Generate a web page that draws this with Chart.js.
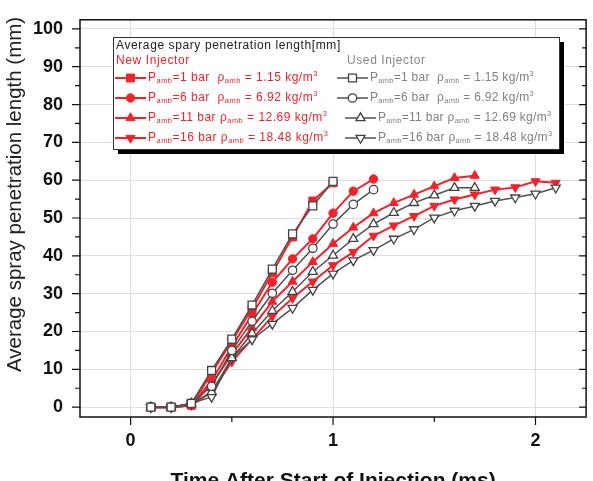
<!DOCTYPE html>
<html><head><meta charset="utf-8">
<script src="https://cdn.jsdelivr.net/npm/chart.js@4.4.1/dist/chart.umd.min.js"></script>
<style>html,body{margin:0;padding:0;overflow:hidden;background:#fff}#wrap{width:593px;height:497px;position:relative}</style>
</head><body><div id="wrap"><canvas id="c"></canvas></div>
<script>
// ---- data ----
const times = [0.1,0.2,0.3,0.4,0.5,0.6,0.7,0.8,0.9,1.0,1.1,1.2,1.3,1.4,1.5,1.6,1.7,1.8,1.9,2.0,2.1];
const pressures = [1, 6, 11, 16];
const densities = ['1.15', '6.92', '12.69', '18.48'];
const new1  = [0,0,0.5,9,17.5,26,35.5,45,54.5,59.3];
const new6  = [0,0,0.5,7,16,24.5,33,39.2,44.5,51.3,57.1,60.3];
const new11 = [0,0,0.5,6,14,21,27.9,33.2,38.4,43.2,47.5,51.3,54,56.2,58.4,60.6,61.2];
const new16 = [0,0,0.5,4,12,18,24,28.8,33.2,37.5,41,45.3,48,50.5,53.2,54.9,56.2,57.5,58.1,59.7,59.3];
const used1  = [0,0,1,9.7,18,27,36.5,45.8,53.2,59.7];
const used6  = [0,0,1,5.5,15,22.7,30.1,36.2,42,48.4,53.6,57.5];
const used11 = [0,0,1,4,13,19.5,25.5,30.5,35.8,40.1,44.5,48.4,51.4,54,56,58,58];
const used16 = [0,0,1,2.7,13,17.9,22,26.2,31,35.3,38.8,41.5,44.5,47,50.1,51.9,53.2,54.5,55.4,56.4,58];
const xMajorTicks = [0, 1, 2];
const xMinorTicks = [0.5, 1.5];
const xTickLabels = ['0', '1', '2'];
const yMajorTicks = [0,10,20,30,40,50,60,70,80,90,100];
const yMinorTicks = [5,15,25,35,45,55,65,75,85,95];
const yTickLabels = ['0','10','20','30','40','50','60','70','80','90','100'];
const legendTitle = 'Average spary penetration length[mm]';
const groupNew = 'New Injector';
const groupUsed = 'Used Injector';
const xTitle = 'Time After Start of Injection (ms)';
const yTitle = 'Average spray penetration length (mm)';

// ---- styles ----
const RED = '#f2222a';
const GRAY = '#4b5452';
const FONT = "'Liberation Sans', Arial, sans-serif";
const styles = [
  {pointStyle:'rect', radius:5.6, rotation:0},
  {pointStyle:'circle', radius:4.2, rotation:0},
  {pointStyle:'triangle', radius:5.2, rotation:0},
  {pointStyle:'triangle', radius:5.2, rotation:180}
];
const toPts = arr => arr.map((v,i)=>({x:times[i], y:v}));
const newSeries = [new1,new6,new11,new16];
const usedSeries = [used1,used6,used11,used16];

const datasets = [];
usedSeries.forEach((s,i)=>datasets.push({
  label:'Used P=' + pressures[i], data:toPts(s), group:'used', idx:i,
  borderColor:GRAY, borderWidth:1.5, backgroundColor:'#fff',
  pointBackgroundColor:'#fff', pointBorderColor:'#3e4442', pointBorderWidth:1.3,
  pointStyle:styles[i].pointStyle, pointRadius:styles[i].radius, pointRotation:styles[i].rotation,
  tension:0
}));
newSeries.forEach((s,i)=>datasets.push({
  label:'New P=' + pressures[i], data:toPts(s), group:'new', idx:i,
  borderColor:RED, borderWidth:2, backgroundColor:RED,
  pointBackgroundColor:RED, pointBorderColor:RED, pointBorderWidth:1,
  pointStyle:styles[i].pointStyle, pointRadius:styles[i].radius, pointRotation:styles[i].rotation,
  tension:0
}));

function drawRich(ctx, x, y, parts, size, weight){
  for (const p of parts){
    if (p.sub){ ctx.font = weight+' '+(size*0.62)+'px '+FONT; ctx.fillText(p.t, x, y+3); }
    else if (p.sup){ ctx.font = weight+' '+(size*0.62)+'px '+FONT; ctx.fillText(p.t, x, y-4); }
    else { ctx.font = weight+' '+size+'px '+FONT; ctx.fillText(p.t, x, y); }
    x += ctx.measureText(p.t).width;
  }
  return x;
}

const framePlugin = {
  id:'frame',
  afterDraw(chart){
    const ctx = chart.ctx, a = chart.chartArea;
    const xs = chart.scales.x, ys = chart.scales.y;
    ctx.save();
    ctx.strokeStyle = '#111'; ctx.lineWidth = 1.5;
    ctx.strokeRect(a.left, a.top, a.right-a.left, a.bottom-a.top);
    ctx.lineWidth = 1.2;
    ctx.beginPath();
    xMajorTicks.forEach(v=>{const p=xs.getPixelForValue(v); ctx.moveTo(p,a.bottom); ctx.lineTo(p,a.bottom+8);});
    xMinorTicks.forEach(v=>{const p=xs.getPixelForValue(v); ctx.moveTo(p,a.bottom); ctx.lineTo(p,a.bottom+5);});
    yMajorTicks.forEach(v=>{const p=ys.getPixelForValue(v); ctx.moveTo(a.left,p); ctx.lineTo(a.left-8,p); ctx.moveTo(a.right,p); ctx.lineTo(a.right-7,p);});
    yMinorTicks.forEach(v=>{const p=ys.getPixelForValue(v); ctx.moveTo(a.left,p); ctx.lineTo(a.left-5,p); ctx.moveTo(a.right,p); ctx.lineTo(a.right-4,p);});
    ctx.stroke();

    // y axis title
    ctx.save();
    ctx.translate(20.5, (a.top+a.bottom)/2 - 24);
    ctx.rotate(-Math.PI/2);
    ctx.fillStyle = '#222'; ctx.font = '20.5px '+FONT;
    ctx.textAlign = 'center'; ctx.textBaseline = 'alphabetic';
    ctx.fillText(yTitle, 0, 0);
    ctx.restore();

    // legend box
    const L=113, T=37, W=446, H=112;
    ctx.fillStyle='#000'; ctx.fillRect(L+5, T+5, W, H);
    ctx.fillStyle='#fff'; ctx.fillRect(L, T, W, H);
    ctx.strokeStyle='#333'; ctx.lineWidth=1; ctx.strokeRect(L+0.5, T+0.5, W, H);
    ctx.textBaseline='middle'; ctx.textAlign='left';
    ctx.letterSpacing = '0.6px';
    ctx.fillStyle='#222'; ctx.font='12px '+FONT; ctx.fillText(legendTitle, L+3, T+9);
    ctx.fillStyle=RED; ctx.font='12px '+FONT; ctx.fillText(groupNew, L+3, T+24);
    ctx.fillStyle='#888'; ctx.fillText(groupUsed, 347, T+24);
    const rowY = [78, 98, 118, 138];
    chart.data.datasets.forEach(ds=>{
      const i = ds.idx, y = rowY[i];
      const isNew = ds.group==='new';
      const x0 = isNew ? L+2 : (i<2 ? 337 : 345);
      const x1 = x0 + 31;
      ctx.strokeStyle = ds.borderColor; ctx.lineWidth = ds.borderWidth;
      ctx.beginPath(); ctx.moveTo(x0,y); ctx.lineTo(x1,y); ctx.stroke();
      ctx.fillStyle = ds.pointBackgroundColor; ctx.strokeStyle = ds.pointBorderColor;
      ctx.lineWidth = ds.pointBorderWidth;
      Chart.helpers.drawPoint(ctx, {pointStyle:ds.pointStyle, rotation:ds.pointRotation, radius:ds.pointRadius, borderWidth:ds.pointBorderWidth}, (x0+x1)/2, y);
      ctx.fillStyle = isNew ? RED : '#808080';
      ctx.letterSpacing = isNew ? '0.5px' : '0.3px';
      const parts = [{t:'P'},{t:'amb',sub:true},{t:'='+pressures[i]+' bar '+(pressures[i]<10?' ':'')},
        {t:'ρ'},{t:'amb',sub:true},{t:' = '+densities[i]+' kg/m'},{t:'3',sup:true}];
      drawRich(ctx, x1+2, y, parts, 12, 'normal');
    });
    ctx.restore();
  }
};

new Chart(document.getElementById('c'), {
  type:'line',
  data:{datasets},
  plugins:[framePlugin],
  options:{
    responsive:true, maintainAspectRatio:false, animation:false,
    layout:{padding:{left:0, right:5, top:15, bottom:0}},
    plugins:{legend:{display:false}, tooltip:{enabled:false}},
    scales:{
      x:{type:'linear', min:-0.25, max:2.25,
        afterBuildTicks:s=>{s.ticks = xMajorTicks.map(v=>({value:v}));},
        afterFit:s=>{s.height = 80;},
        ticks:{autoSkip:false, maxRotation:0, padding:5, color:'#111',
          font:{family:FONT, size:18, weight:'bold'},
          callback:v=>{const k=xMajorTicks.indexOf(v); return k>=0?xTickLabels[k]:'';}},
        grid:{color:'#dedede', lineWidth:1, tickLength:8, tickColor:'rgba(0,0,0,0)'},
        border:{display:false},
        title:{display:true, text:xTitle, color:'#111',
          font:{family:FONT, size:21, weight:'bold'}, padding:{top:0,bottom:3}}
      },
      y:{type:'linear', min:-2.6, max:102.4,
        afterBuildTicks:s=>{s.ticks = yMajorTicks.map(v=>({value:v}));},
        afterFit:s=>{s.width = 80;},
        ticks:{autoSkip:false, padding:9, color:'#111',
          font:{family:FONT, size:18, weight:'bold'},
          callback:v=>{const k=yMajorTicks.indexOf(v); return k>=0?yTickLabels[k]:'';}},
        grid:{color:'#dedede', lineWidth:1, tickLength:8, tickColor:'rgba(0,0,0,0)'},
        border:{display:false},
        title:{display:false}
      }
    }
  }
});
</script></body></html>
